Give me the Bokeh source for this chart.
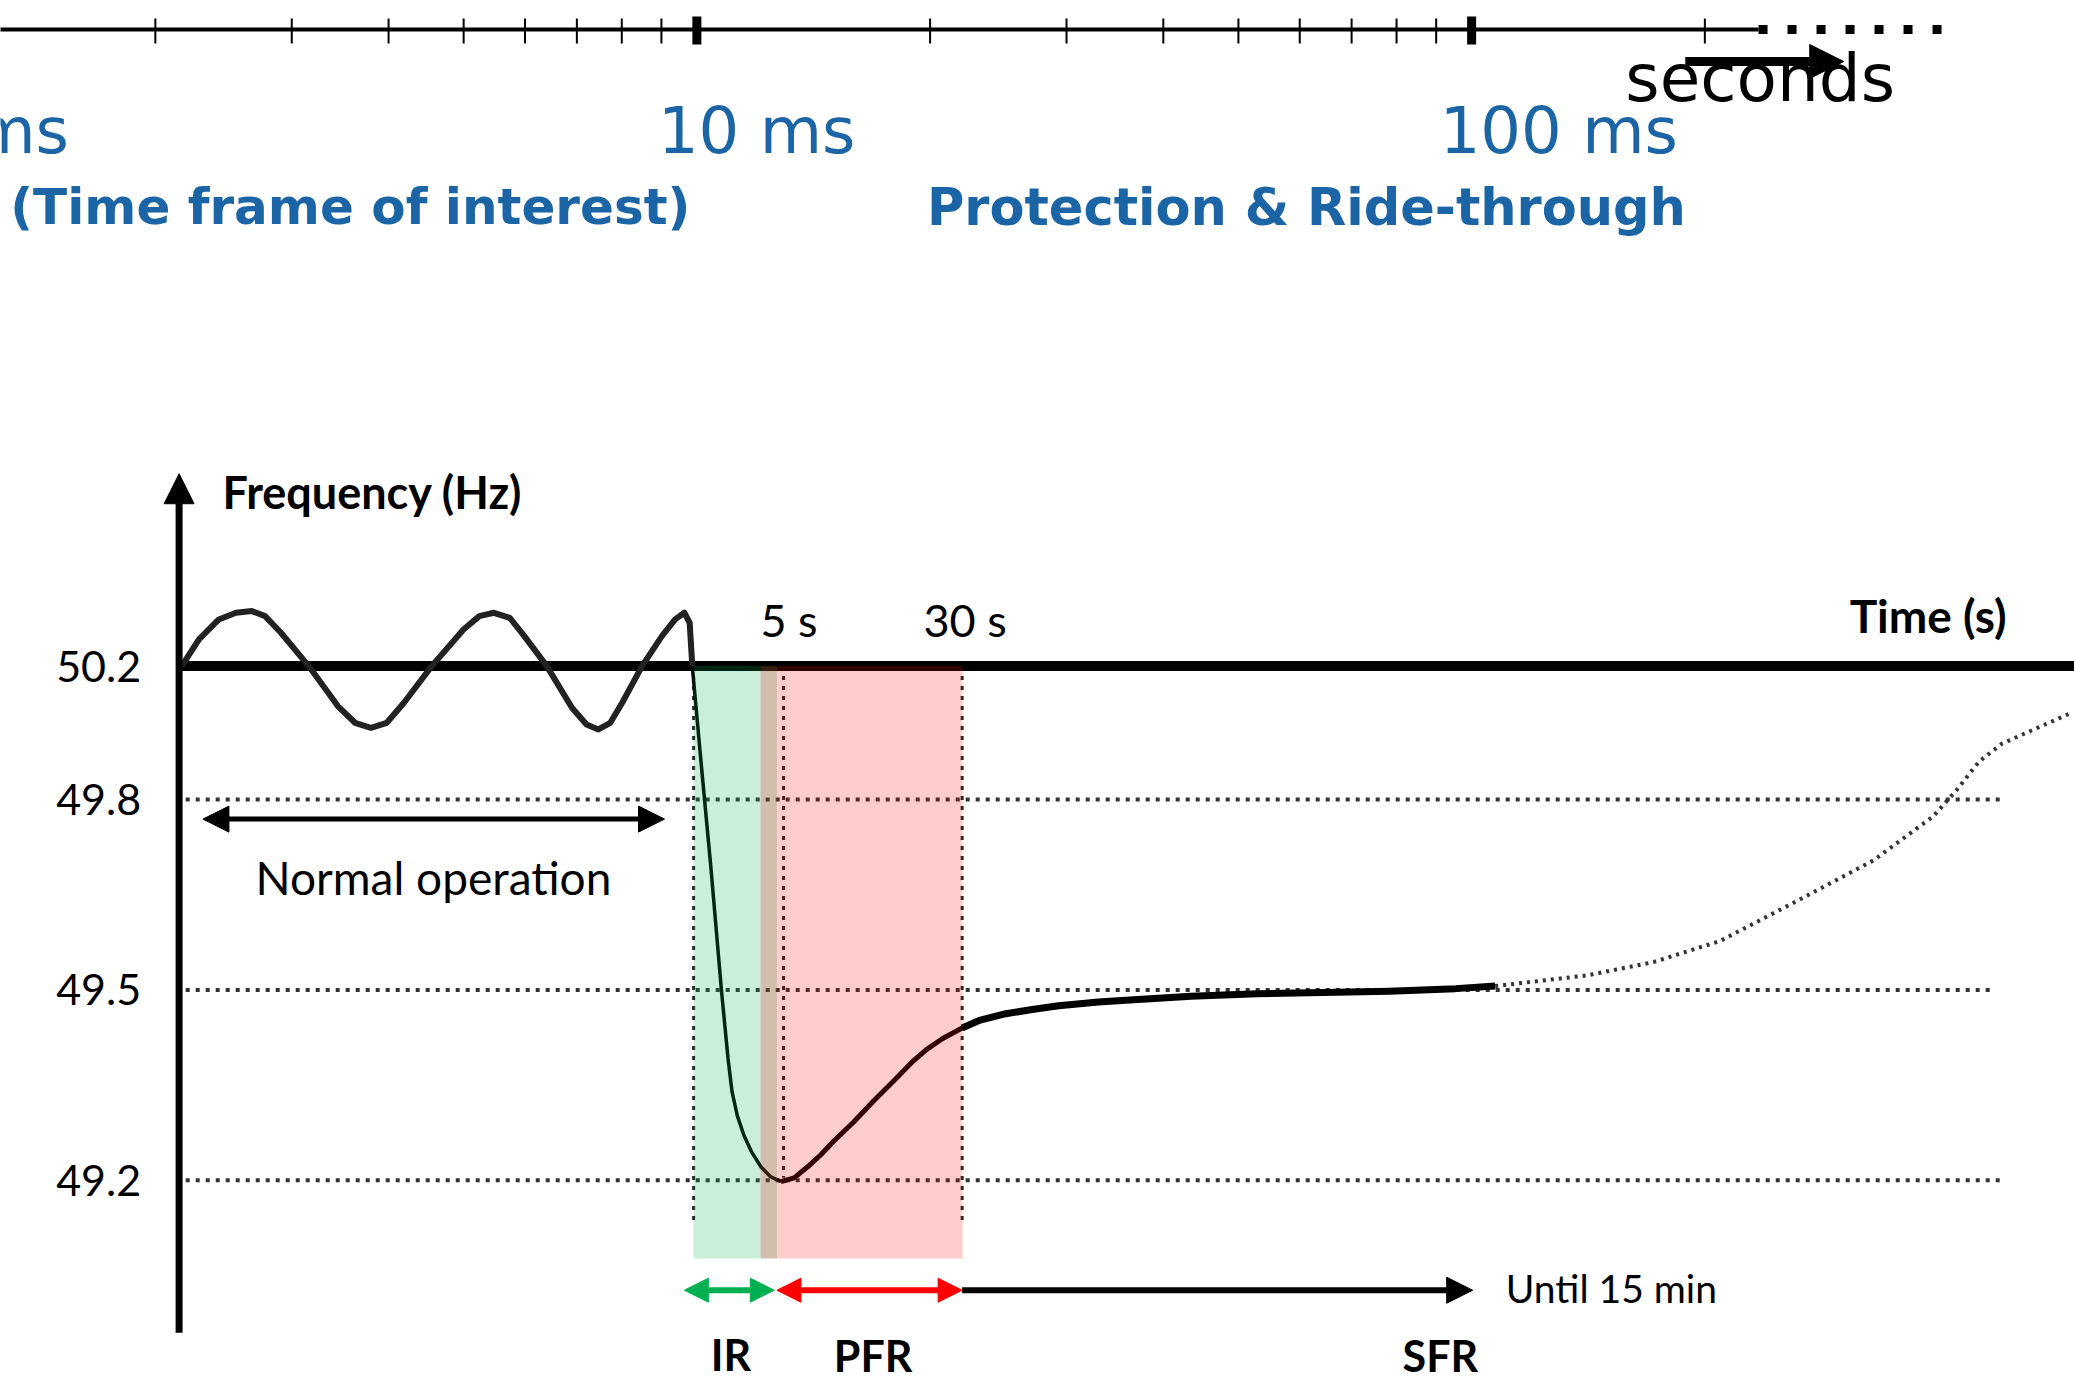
import numpy as np
from bokeh.plotting import figure
from bokeh.layouts import column
from bokeh.models import Range1d, Arrow, NormalHead, ColumnDataSource
from bokeh.core.properties import value
from bokeh.embed import file_html
from bokeh.resources import INLINE

# ---------------- data ----------------
# upper time scale (milliseconds, logarithmic)
scale_minor_ms = [2, 3, 4, 5, 6, 7, 8, 9, 20, 30, 40, 50, 60, 70, 80, 90, 200]
scale_major_ms = [10, 100]
scale_label_ms = [1, 10, 100]
scale_labels = ["1 ms", "10 ms", "100 ms"]
scale_solid_ms = [1.0, 234.6]
scale_dotted_ms = [234.6, 407.0]
range_titles = ["(Time frame of interest)", "Protection & Ride-through"]
range_title_ms = [9.81, 61.2]
seconds_arrow_ms = [188.7, 302.2]
seconds_label_ms = 157.9

# frequency axis (schematic, non-uniform)
freq_ticks = [49.2, 49.5, 49.8, 50.2]
freq_tick_labels = ["49.2", "49.5", "49.8", "50.2"]
freq_pos = [49.2, 49.5, 49.8, 50.01]

# schematic time positions of the markers
t_event = 3.89
t_5s = 4.57
t_30s = 5.92
ir_band = [3.89, 4.52]
pfr_band = [4.396, 5.923]
band_bottom_hz = 49.077
marker_x = [t_event, t_5s, t_30s]
marker_bottom_hz = [49.131, 49.204, 49.131]
grid_hz = [49.8, 49.5, 49.2]
grid_x0 = [0.05, 0.05, 0.05]
grid_x1 = [13.77, 13.73, 13.77]

# normal operation oscillation
wave_x = [0.02, 0.15, 0.30, 0.43, 0.55, 0.65, 0.77, 0.98, 1.20, 1.33, 1.45, 1.57, 1.70,
          1.91, 2.15, 2.27, 2.38, 2.50, 2.61, 2.78, 2.97, 3.08, 3.17, 3.26, 3.35, 3.50,
          3.65, 3.75, 3.82, 3.86, 3.88]
wave_hz = [50.20, 50.28, 50.34, 50.36, 50.365, 50.35, 50.30, 50.20, 50.08, 50.03, 50.015,
           50.03, 50.09, 50.20, 50.31, 50.35, 50.36, 50.345, 50.29, 50.20, 50.075, 50.025,
           50.01, 50.03, 50.09, 50.20, 50.29, 50.34, 50.36, 50.33, 50.20]

# frequency drop (inertial response)
drop_x = [3.88, 3.95, 4.02, 4.10, 4.15, 4.18, 4.22, 4.27, 4.33, 4.40, 4.47, 4.55]
drop_hz = [50.2, 49.895, 49.694, 49.5, 49.392, 49.340, 49.302, 49.271, 49.244, 49.221,
           49.206, 49.198]
# primary frequency response recovery
rec_x = [4.55, 4.65, 4.75, 4.85, 4.95, 5.10, 5.25, 5.40, 5.55, 5.65, 5.77, 5.92]
rec_hz = [49.198, 49.204, 49.221, 49.240, 49.262, 49.292, 49.325, 49.356, 49.388, 49.406,
          49.423, 49.440]
# secondary response plateau
tail_x = [5.92, 6.05, 6.25, 6.45, 6.65, 6.95, 7.25, 7.65, 8.15, 8.65, 9.15, 9.65, 9.95]
tail_hz = [49.440, 49.452, 49.4625, 49.469, 49.475, 49.481, 49.485, 49.490, 49.494,
           49.496, 49.498, 49.502, 49.506]
# restoration trend (dotted)
trend_x = [9.95, 10.65, 11.15, 11.65, 12.25, 12.81, 13.26, 13.44, 13.61, 13.78, 14.00, 14.29]
trend_hz = [49.506, 49.523, 49.544, 49.577, 49.642, 49.704, 49.773, 49.829, 49.914,
            49.967, 50.006, 50.057]

# ---------------- helpers ----------------
def schem(hz):
    """Schematic (piecewise linear) placement of a frequency on the vertical axis."""
    hz = np.atleast_1d(np.asarray(hz, dtype=float))
    out = np.interp(hz, freq_ticks, freq_pos)
    s_hi = (freq_pos[-1] - freq_pos[-2]) / (freq_ticks[-1] - freq_ticks[-2])
    s_lo = (freq_pos[1] - freq_pos[0]) / (freq_ticks[1] - freq_ticks[0])
    hi = hz > freq_ticks[-1]
    lo = hz < freq_ticks[0]
    out[hi] = freq_pos[-1] + (hz[hi] - freq_ticks[-1]) * s_hi
    out[lo] = freq_pos[0] + (hz[lo] - freq_ticks[0]) * s_lo
    return out

BLUE = "#1B64A6"
W = 2074
HA = 265
HB = 1119

# ---------------- top figure: time scale ----------------
pA = figure(width=W, height=HA, x_axis_type="log", x_range=Range1d(1.2623, 600.0),
            y_range=Range1d(HA, 0), output_backend="svg", toolbar_location=None,
            x_axis_location=None, y_axis_location=None, min_border=0)
pA.outline_line_color = None
pA.grid.visible = False
pA.background_fill_color = "white"
pA.border_fill_color = "white"

pA.line(x=scale_solid_ms, y=[29, 29], line_color="black", line_width=4)
pA.line(x=scale_dotted_ms, y=[29, 29], line_color="black", line_width=9, line_dash="9 20")
pA.segment(x0=scale_minor_ms, y0=[18] * len(scale_minor_ms), x1=scale_minor_ms,
           y1=[43] * len(scale_minor_ms), line_color="black", line_width=2)
pA.segment(x0=scale_major_ms, y0=[16, 16], x1=scale_major_ms, y1=[44, 44],
           line_color="black", line_width=9)

lab_src = ColumnDataSource(dict(x=scale_label_ms, y=[130, 130, 130], t=scale_labels,
                                xo=[-10, -39, -32]))
pA.text(x="x", y="y", text="t", x_offset="xo", source=lab_src, text_align="left",
        text_baseline="middle", text_font=value("DejaVu Sans"), text_font_size="64px",
        text_color=BLUE)
pA.text(x=[range_title_ms[0]], y=[206], text=[range_titles[0]], text_align="right",
        text_baseline="middle", text_font=value("DejaVu Sans"), text_font_style="bold",
        text_font_size="50px", text_color=BLUE)
pA.text(x=[range_title_ms[1]], y=[207], text=[range_titles[1]], text_align="center",
        text_baseline="middle", text_font=value("DejaVu Sans"), text_font_style="bold",
        text_font_size="51px", text_color=BLUE)
pA.text(x=[seconds_label_ms], y=[78], text=["seconds"], text_align="left",
        text_baseline="middle", text_font=value("DejaVu Sans"), text_font_size="66px",
        text_color="black")
pA.add_layout(Arrow(end=NormalHead(size=34, fill_color="black", line_color="black"),
                    x_start=seconds_arrow_ms[0], y_start=61, x_end=seconds_arrow_ms[1],
                    y_end=61, line_width=9, line_color="black"))

# ---------------- main figure ----------------
PX_X = 132.27          # pixels per schematic time unit
PX_Y = 634.9           # pixels per schematic frequency unit
AXIS_PX = 178.6        # pixel column of the frequency axis
x_start = -AXIS_PX / PX_X
x_end = (W - AXIS_PX) / PX_X
y_top = 49.5 + (989.4 - HA) / PX_Y
y_bot = y_top - HB / PX_Y

pB = figure(width=W, height=HB, x_range=Range1d(x_start, x_end),
            y_range=Range1d(y_bot, y_top), output_backend="svg", toolbar_location=None,
            x_axis_location=None, y_axis_location=None, min_border=0)
pB.outline_line_color = None
pB.grid.visible = False
pB.background_fill_color = "white"
pB.border_fill_color = "white"

# frequency tick labels
pB.text(x=[0] * len(freq_ticks), y=schem(freq_ticks), text=freq_tick_labels, x_offset=-38,
        text_align="right", text_baseline="middle", text_font=value("Lato"),
        text_font_size="43px", text_color="black")

# dotted reference levels
pB.segment(x0=grid_x0, y0=schem(grid_hz), x1=grid_x1, y1=schem(grid_hz),
           line_color="#333333", line_width=4, line_dash="4 6")
# dotted time markers
top_lvl = float(schem(50.2)[0])
pB.segment(x0=marker_x, y0=[top_lvl] * 3, x1=marker_x, y1=schem(marker_bottom_hz),
           line_color="#222222", line_width=3, line_dash="4 6")

# time axis line
pB.line(x=[0, x_end], y=[top_lvl, top_lvl], line_color="black", line_width=10)

# curves
pB.line(x=wave_x, y=schem(wave_hz), line_color="#222222", line_width=6, line_join="round")
pB.line(x=drop_x, y=schem(drop_hz), line_color="black", line_width=3.5, line_join="round")
pB.line(x=rec_x, y=schem(rec_hz), line_color="black", line_width=5, line_join="round")
pB.line(x=tail_x, y=schem(tail_hz), line_color="black", line_width=7, line_join="round")
pB.line(x=trend_x, y=schem(trend_hz), line_color="#333333", line_width=4, line_dash="3 5")

# response bands
bb = float(schem(band_bottom_hz)[0])
pB.quad(left=[ir_band[0]], right=[ir_band[1]], bottom=[bb], top=[top_lvl],
        fill_color="#00B050", fill_alpha=0.21, line_color=None)
pB.quad(left=[pfr_band[0]], right=[pfr_band[1]], bottom=[bb], top=[top_lvl],
        fill_color="#FF0000", fill_alpha=0.2, line_color=None)

# frequency axis with arrow
pB.add_layout(Arrow(end=NormalHead(size=30, fill_color="black", line_color="black"),
                    x_start=0, y_start=48.960, x_end=0, y_end=50.313,
                    line_width=7, line_color="black"))

# duration arrows
def dbl(x0, x1, y, color, both=True, size=26, lw=6):
    head = lambda: NormalHead(size=size, fill_color=color, line_color=color)
    pB.add_layout(Arrow(start=head() if both else None, end=head(), x_start=x0, y_start=y,
                        x_end=x1, y_end=y, line_width=lw, line_color=color))

dbl(0.18, 3.67, 49.769, "black", size=26, lw=5)
dbl(3.82, 4.50, 49.027, "#00B050", size=24)
dbl(4.52, 5.92, 49.027, "#FF0000", size=24)
dbl(5.92, 9.78, 49.027, "black", both=False, size=26)

# texts
def txt(x, y, s, size, bold=False, align="left"):
    pB.text(x=[x], y=[y], text=[s], text_align=align, text_baseline="middle",
            text_font=value("Lato"), text_font_style="bold" if bold else "normal",
            text_font_size=size, text_color="black")

txt(0.328, 50.285, "Frequency (Hz)", "45px", bold=True)
txt(12.63, 50.0897, "Time (s)", "46px", bold=True)
txt(4.395, 50.0826, "5 s", "45px")
txt(5.628, 50.0826, "30 s", "45px")
txt(0.578, 49.677, "Normal operation", "46px")
txt(10.03, 49.0305, "Until 15 min", "39px")
txt(4.02, 48.926, "IR", "43px", bold=True)
txt(4.95, 48.924, "PFR", "43px", bold=True)
txt(9.25, 48.924, "SFR", "43px", bold=True)

layout = column(pA, pB)
open("out.html", "w").write(file_html(layout, INLINE))
